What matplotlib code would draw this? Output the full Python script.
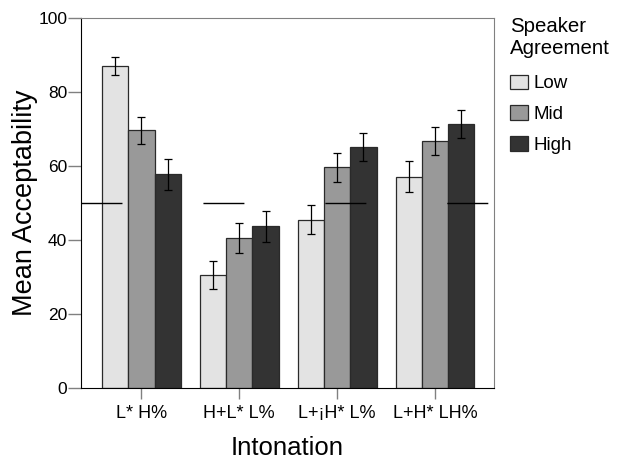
import matplotlib
matplotlib.use('Agg')
import matplotlib.pyplot as plt
import numpy as np

# Mean acceptability by intonation contour and speaker agreement
intonations = ['L* H%', 'H+L* L%', 'L+¡H* L%', 'L+H* LH%']
levels = ['Low', 'Mid', 'High']
low = [87.0, 30.5, 45.5, 57.1]
mid = [69.6, 40.6, 59.6, 66.7]
high = [57.8, 43.7, 65.1, 71.4]
low_err = [2.4, 3.8, 4.0, 4.2]
mid_err = [3.7, 4.1, 3.8, 3.8]
high_err = [4.2, 4.2, 3.7, 3.7]
chance_level = 50

plt.rcParams['font.family'] = ['Liberation Sans', 'DejaVu Sans']

fig = plt.figure(figsize=(6.25, 4.63), dpi=100)
ax = fig.add_axes([81 / 625, 1 - 388 / 463, (494 - 81) / 625, (388 - 18) / 463])

x = np.arange(len(intonations))
w = 0.269
series = [low, mid, high]
errs = [low_err, mid_err, high_err]
colors = ['#e3e3e3', '#999999', '#333333']

for i, (vals, err, col, lab) in enumerate(zip(series, errs, colors, levels)):
    pos = x + (i - 1) * w
    ax.bar(pos, vals, width=w, color=col, edgecolor='#2a2a2a', linewidth=0.9,
           label=lab, zorder=2)
    ax.errorbar(pos, vals, yerr=err, fmt='none', ecolor='black',
                elinewidth=0.9, capsize=3, capthick=0.9, zorder=3)

# reference line at 50, broken into segments like the original
ax.axhline(chance_level, color='black', linewidth=1.0,
           linestyle=(0, (29.5, 58.3)), zorder=4)

ax.set_xlim(-0.618, 3.603)
ax.set_ylim(0, 100)
ax.set_yticks([0, 20, 40, 60, 80, 100])
ax.set_xticks(x)
ax.set_xticklabels(intonations)

for s in ['top', 'right']:
    ax.spines[s].set_color('#808080')
for s in ['left', 'bottom']:
    ax.spines[s].set_color('black')

ax.tick_params(axis='y', direction='out', length=9.4, width=1, color='#808080',
               labelsize=12.5, pad=0.5)
ax.tick_params(axis='x', direction='out', length=8, width=1, color='#808080',
               labelsize=13, pad=4)

ax.set_ylabel('Mean Acceptability', fontsize=19.5, labelpad=0.5)
ax.set_xlabel('Intonation', fontsize=18.5, labelpad=10.5)

leg = ax.legend(title='Speaker\nAgreement', loc='upper left',
                bbox_to_anchor=(510 / 625, 1 - 17 / 463),
                bbox_transform=fig.transFigure, frameon=False,
                fontsize=13.5, title_fontsize=14.7, borderpad=0,
                borderaxespad=0, handlelength=0.96, handleheight=0.85,
                handletextpad=0.27, labelspacing=0.69, alignment='left')
leg._legend_box.sep = 11.9  # extra room between title and entries

fig.savefig('out.png', dpi=100)
